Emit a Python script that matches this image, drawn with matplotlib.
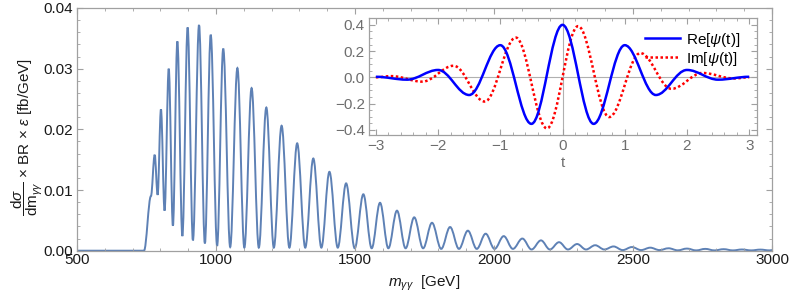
import matplotlib
matplotlib.use("Agg")
import matplotlib.pyplot as plt
import numpy as np
from matplotlib.path import Path
from matplotlib.patches import PathPatch
from matplotlib.lines import Line2D
from matplotlib.ticker import MultipleLocator

plt.rcParams['font.family'] = ['Liberation Sans', 'DejaVu Sans']
plt.rcParams['mathtext.fontset'] = 'custom'
plt.rcParams['mathtext.rm'] = 'Liberation Sans'
plt.rcParams['mathtext.it'] = 'Liberation Sans:italic'
plt.rcParams['mathtext.bf'] = 'Liberation Sans:bold'

# main curve: extrema (GeV, fb/GeV)
onset_mass = [500, 741, 766]
onset_height = [0.0, 0.0, 0.0090]
peak_mass = [779.5, 802, 830, 861, 898, 939, 981, 1026, 1077, 1128, 1181, 1236,
             1292, 1350, 1408, 1468, 1530, 1590, 1651, 1713, 1777, 1842, 1906,
             1970, 2035, 2102, 2169, 2234, 2299, 2364, 2430, 2496, 2562, 2628,
             2694, 2760, 2826, 2892, 2958]
peak_height = [0.0158, 0.0233, 0.0300, 0.0345, 0.0368, 0.0372, 0.0356, 0.0333,
               0.0301, 0.0268, 0.0236, 0.0206, 0.0177, 0.0152, 0.0130, 0.0111,
               0.0093, 0.0079, 0.0066, 0.0055, 0.0046, 0.0039, 0.0033, 0.0028,
               0.0024, 0.0020, 0.0017, 0.0014, 0.0011, 0.0009, 0.0007, 0.0006,
               0.0005, 0.0004, 0.00035, 0.0003, 0.00025, 0.0002, 0.00018]
trough_mass = [790, 815, 845, 879, 917, 960, 1004, 1051, 1102, 1154, 1208, 1264,
               1321, 1379, 1438, 1499, 1560, 1620, 1682, 1745, 1810, 1874, 1938,
               2002, 2068, 2135, 2201, 2266, 2331, 2397, 2463, 2529, 2595, 2661,
               2727, 2793, 2859, 2925, 2991, 3000]
trough_height = [0.0092, 0.0066, 0.0041, 0.0024, 0.0017, 0.0012, 0.0008, 0.0006,
                 0.0005, 0.0005, 0.0005, 0.0005, 0.0005, 0.0005, 0.0005, 0.0004,
                 0.0004, 0.0004, 0.0004, 0.0004, 0.0003, 0.0003, 0.0003, 0.0003,
                 0.0003, 0.0002, 0.0002, 0.0002, 0.0002, 0.0002, 0.0001, 0.0001,
                 0.0001, 0.00006, 0.00005, 0.00005, 0.00005, 0.00005, 0.00005, 0.0001]

# inset: extrema of the wavelet
re_t = [-3.0, -2.5, -2.0, -1.5, -1.0, -0.5, 0.0, 0.5, 1.0, 1.5, 2.0, 2.5, 3.0]
re_psi = [0.004, -0.018, 0.056, -0.135, 0.245, -0.355, 0.40, -0.355, 0.245,
          -0.135, 0.056, -0.018, 0.004]
im_t = [-3.0, -2.75, -2.25, -1.75, -1.25, -0.75, -0.25, 0.25, 0.75, 1.25, 1.75,
        2.25, 2.75, 3.0]
im_psi = [0.0, 0.009, -0.033, 0.088, -0.185, 0.303, -0.39, 0.39, -0.303, 0.185,
          -0.088, 0.033, -0.009, 0.0]


def smooth_path(xs, ys, k=0.36):
    # cubic Bezier segments with flat tangents at each extremum
    verts = [(xs[0], ys[0])]
    codes = [Path.MOVETO]
    for i in range(len(xs) - 1):
        dx = xs[i + 1] - xs[i]
        verts += [(xs[i] + k * dx, ys[i]), (xs[i + 1] - k * dx, ys[i + 1]),
                  (xs[i + 1], ys[i + 1])]
        codes += [Path.CURVE4] * 3
    return Path(verts, codes)


frame_col = '#a0a0a0'
fs = 11

fig = plt.figure(figsize=(7.89, 2.97), dpi=100)
ax = fig.add_axes([77 / 789, 1 - 250.7 / 297, 695 / 789, 242.7 / 297])

mx = np.array(onset_mass + peak_mass + trough_mass)
my = np.array(onset_height + peak_height + trough_height)
order = np.argsort(mx)
ax.add_patch(PathPatch(smooth_path(mx[order], my[order]), fill=False,
                       edgecolor='#5e81b5', lw=1.4, capstyle='round'))

ax.set_xlim(500, 3000)
ax.set_ylim(0, 0.04)
ax.set_xticks([500, 1000, 1500, 2000, 2500, 3000])
ax.set_yticks([0.0, 0.01, 0.02, 0.03, 0.04])
ax.set_yticklabels(['0.00', '0.01', '0.02', '0.03', '0.04'])
ax.xaxis.set_minor_locator(MultipleLocator(100))
ax.yaxis.set_minor_locator(MultipleLocator(0.002))
ax.tick_params(which='both', direction='in', top=True, right=True,
               color=frame_col, labelsize=fs, labelcolor='#1a1a1a')
ax.tick_params(which='major', length=4, width=0.8)
ax.tick_params(which='minor', length=2, width=0.6)
ax.tick_params(axis='x', pad=2)
ax.tick_params(axis='y', pad=3)
for s in ax.spines.values():
    s.set_color(frame_col)
    s.set_linewidth(0.9)

ax.set_xlabel(r'$m_{\gamma\gamma}$  [GeV]', fontsize=fs, color='#1a1a1a')
ax.xaxis.set_label_coords(0.5, -0.095)
ax.set_ylabel(r'$\dfrac{\mathrm{d}\sigma}{\mathrm{dm}_{\gamma\gamma}}$ × BR × $\epsilon$ [fb/GeV]',
              fontsize=fs, color='#1a1a1a')
ax.yaxis.set_label_coords(-0.046, 0.47)

# inset
ins = fig.add_axes([369 / 789, 1 - 135 / 297, 388.3 / 789, 116.7 / 297])
ins.axhline(0, color='#b0b0b0', lw=0.8, zorder=1)
ins.axvline(0, color='#b0b0b0', lw=0.8, zorder=1)
ins.add_patch(PathPatch(smooth_path(re_t, re_psi), fill=False, edgecolor='#0000ff',
                        lw=1.8, zorder=3))
ins.add_patch(PathPatch(smooth_path(im_t, im_psi), fill=False, edgecolor='#ff0000',
                        lw=1.8, linestyle=(0, (1, 1)), zorder=2))
ins.set_xlim(-3.11, 3.13)
ins.set_ylim(-0.44, 0.45)
ins.set_xticks([-3, -2, -1, 0, 1, 2, 3])
ins.set_yticks([-0.4, -0.2, 0.0, 0.2, 0.4])
ins.set_xticklabels(['\u22123', '\u22122', '\u22121', '0', '1', '2', '3'])
ins.set_yticklabels(['\u22120.4', '\u22120.2', '0.0', '0.2', '0.4'])
ins.xaxis.set_minor_locator(MultipleLocator(0.2))
ins.yaxis.set_minor_locator(MultipleLocator(0.05))
ins.tick_params(which='both', direction='in', top=True, right=True,
                color=frame_col, labelsize=fs, labelcolor='#6e6e6e')
ins.tick_params(which='major', length=4, width=0.8)
ins.tick_params(which='minor', length=2, width=0.6)
ins.tick_params(axis='x', pad=3)
ins.tick_params(axis='y', pad=3)
for s in ins.spines.values():
    s.set_color(frame_col)
    s.set_linewidth(0.9)
ins.set_xlabel('t', fontsize=fs, color='#6e6e6e', labelpad=2)

handles = [Line2D([], [], color='#0000ff', lw=1.8),
           Line2D([], [], color='#ff0000', lw=1.8, linestyle=(0, (1, 1)))]
ins.legend(handles, [r'Re[$\psi$(t)]', r'Im[$\psi$(t)]'], loc='upper right',
           frameon=False, fontsize=fs, handlelength=2.3, handletextpad=0.4,
           labelspacing=0.05, borderaxespad=0.3, bbox_to_anchor=(0.985, 0.985))

fig.savefig('out.png', dpi=100)
